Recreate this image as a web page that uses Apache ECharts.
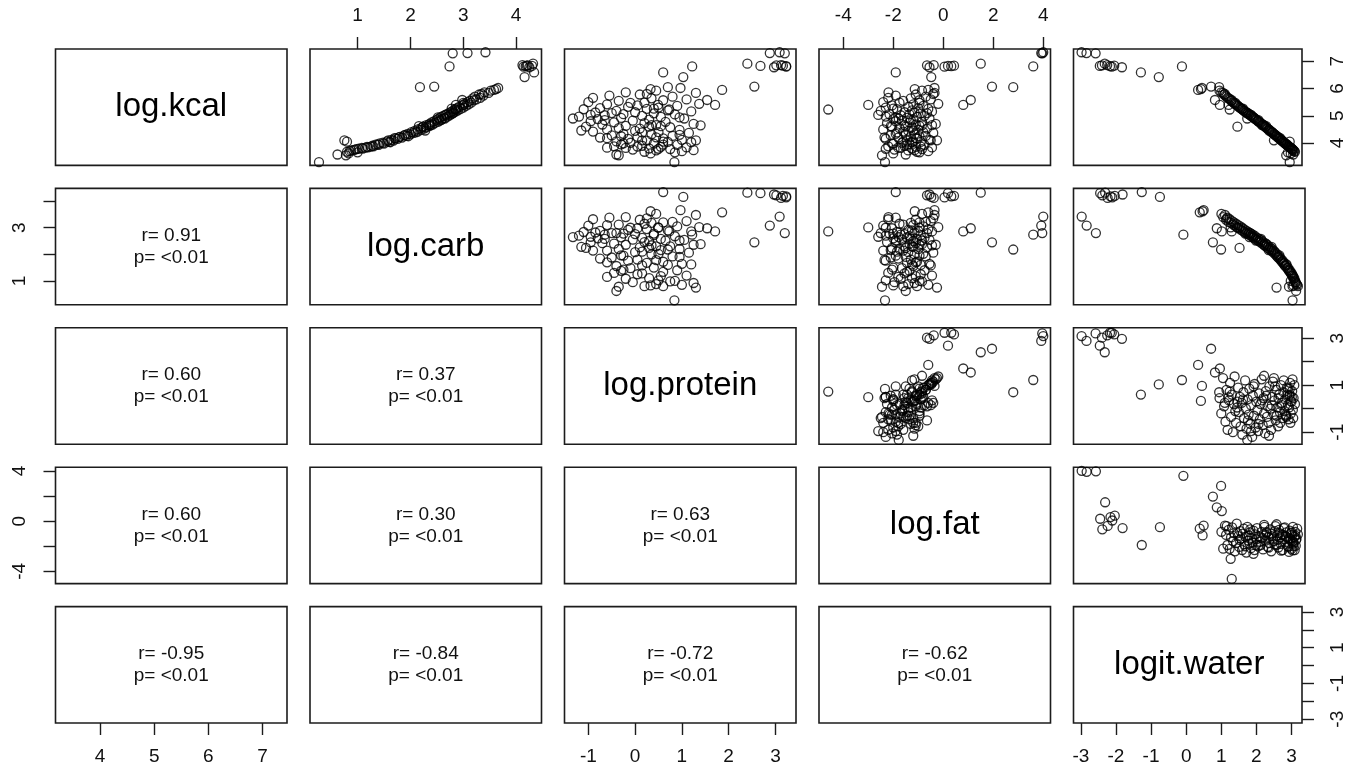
<!DOCTYPE html>
<html>
<head>
<meta charset="utf-8">
<script src="https://cdn.jsdelivr.net/npm/echarts@6/dist/echarts.min.js"></script>
<style>
  html, body { margin: 0; padding: 0; background: #ffffff; }
  #chart { width: 1347px; height: 771px; }
</style>
</head>
<body>
<div id="chart"></div>
<script>
// Variable names shown on the diagonal
const varNames = ['log.kcal', 'log.carb', 'log.protein', 'log.fat', 'logit.water'];

// One value per food item, same order in every array
const logKcal = [
  7.33, 7.30, 7.29, 6.81, 6.59, 6.42, 6.91, 6.83, 6.85, 6.82, 6.80, 6.84, 6.78, 6.86, 6.07, 5.95, 6.05, 5.58, 5.40, 5.98, 6.02, 4.90, 5.23, 5.40, 3.30, 4.60,
  5.92, 5.86, 5.84, 5.78, 5.74, 5.70, 5.66, 5.64, 5.60, 5.55,
  5.57, 5.50, 5.48, 5.44, 5.42, 5.38, 5.36, 5.33, 5.30, 5.28,
  5.25, 5.24, 5.20, 5.18, 5.16, 5.13, 5.12, 5.09, 5.06, 5.05,
  5.02, 5.00, 4.97, 4.96, 4.92, 4.90, 4.88, 4.86, 4.82, 4.80,
  4.78, 4.76, 4.73, 4.70, 4.68, 4.66, 4.63, 4.60, 4.58, 4.55,
  4.53, 4.50, 4.48, 4.45, 4.42, 4.40, 4.37, 4.34, 4.32, 4.28,
  4.26, 4.23, 4.20, 4.17, 4.15, 4.12, 4.09, 4.06, 4.04, 4.01,
  3.98, 3.95, 3.93, 3.90, 3.88, 3.86, 3.84, 3.82, 3.80, 3.78,
  3.76, 3.73, 3.70, 3.68, 3.55, 4.05, 4.10, 3.62, 3.58, 3.66,
  5.80, 5.47, 5.26, 5.10, 4.94, 4.84, 4.66, 4.62, 4.46, 4.39,
  4.30, 4.25, 4.21, 4.18, 4.10, 4.03, 3.99, 3.94, 3.87, 3.83, 3.79, 3.74, 5.03, 4.65
];
const logCarb = [
  3.42, 3.08, 2.80, 2.74, 4.34, 4.16, 4.32, 4.30, 4.22, 4.18, 4.14, 4.20, 4.25, 4.12, 2.45, 3.58, 2.18, 2.98, 2.86, 3.62, 3.66, 2.65, 2.86, 3.01, 0.27, 2.24,
  3.52, 3.40, 3.48, 3.30, 3.38, 3.22, 3.32, 3.18, 3.25, 3.12,
  3.20, 3.08, 3.15, 3.02, 3.10, 2.98, 3.05, 2.92, 3.00, 2.88,
  2.95, 2.84, 2.90, 2.80, 2.86, 2.76, 2.82, 2.72, 2.78, 2.68,
  2.74, 2.62, 2.70, 2.58, 2.64, 2.54, 2.60, 2.50, 2.55, 2.45,
  2.52, 2.40, 2.46, 2.36, 2.42, 2.30, 2.36, 2.24, 2.30, 2.20,
  2.26, 2.14, 2.20, 2.08, 2.14, 2.02, 2.06, 1.95, 2.00, 1.88,
  1.92, 1.80, 1.84, 1.72, 1.76, 1.64, 1.68, 1.56, 1.60, 1.48,
  1.50, 1.38, 1.40, 1.28, 1.30, 1.18, 1.20, 1.08, 1.10, 0.98,
  0.95, 0.88, 0.85, 0.80, 0.78, 0.80, 0.75, 0.83, 0.62, 1.00,
  3.35, 3.00, 2.78, 2.80, 2.52, 2.58, 2.34, 2.16, 2.28, 2.10,
  1.90, 1.96, 1.78, 1.70, 1.58, 1.62, 1.42, 1.34, 1.25, 1.15, 1.02, 0.92, 2.66, 2.38
];
const logProtein = [
  3.09, 2.88, 3.20, 1.22, 0.60, 1.03, 2.40, 2.68, 3.02, 3.23, 3.23, 3.16, 2.97, 3.12, 2.55, 1.86, 0.70, 1.54, 1.71, 0.33, 0.97, -1.33, 0.73, 0.49, 0.84, 0.30,
  0.45, -0.20, 1.30, 0.10, -0.55, 0.80, -0.90, 0.35, 1.10, -0.35,
  0.60, -1.00, 0.20, 1.37, -0.60, 0.05, 0.90, -0.15, 0.50, -0.75,
  0.25, -1.10, 0.70, -0.40, 1.20, 0.00, -0.85, 0.40, -0.25, 0.85,
  -0.65, 0.15, -1.20, 0.55, -0.30, 1.05, -0.80, 0.30, -0.05, -0.95,
  0.65, -0.45, 0.20, 1.25, -0.70, 0.45, -0.20, -1.05, 0.75, -0.35,
  0.10, -0.60, 0.95, 0.00, -0.90, 0.50, 1.15, -0.25, 0.35, -0.50,
  0.80, 0.05, -0.75, 0.60, -0.15, 1.00, 0.25, -0.40, 0.70, -0.10,
  0.40, -0.30, 0.90, 0.15, -0.45, 0.55, 1.10, -0.20, 0.30, 0.75,
  -0.05, 0.45, 1.00, 0.20, -0.35, 0.60, 1.30, 0.33, -0.40, 0.85,
  0.25, -0.10, 0.40, -0.50, 0.95, -0.65, 0.35, 0.55, -1.15, 0.15,
  0.95, -0.30, 0.45, -0.60, 0.15, 1.20, -0.25, 0.60, 0.05, -0.60, 0.50, 1.25, -0.95, 1.40
];
const logFat = [
  4.00, 3.92, 3.96, 3.60, -1.90, -0.48, 1.50, 0.19, -0.65, 0.32, 0.05, 0.43, -0.55, -0.38, 1.95, -0.60, 2.80, 1.10, 0.80, -1.14, -0.35, -1.78, -4.60, -3.00, -2.33, -1.50,
  -0.85, -2.19, -0.35, -1.10, -1.90, -0.70, -2.20, -1.30, -0.50, -1.60,
  -0.95, -2.40, -1.75, -0.20, -1.20, -2.05, -0.80, -1.40, -2.30, -1.00,
  -0.60, -1.85, -1.25, -2.50, -0.45, -1.55, -1.15, -0.90, -2.15, -1.35,
  -1.70, -0.75, -2.30, -1.05, -1.45, -0.55, -2.00, -1.20, -1.65, -1.90,
  -0.85, -1.35, -2.25, -0.30, -1.10, -1.55, -0.95, -2.05, -1.25, -1.75,
  -0.65, -2.40, -1.00, -1.40, -1.60, -0.80, -0.40, -1.90, -1.15, -2.10,
  -0.70, -1.30, -1.80, -1.05, -2.30, -0.55, -1.45, -1.20, -0.90, -1.65,
  -2.00, -1.35, -0.75, -1.55, -2.20, -1.10, -0.45, -1.70, -1.25, -0.85,
  -1.95, -1.40, -0.60, -1.05, -2.45, -1.60, -0.25, -2.00, -1.50, -0.95,
  -0.40, -0.95, -2.00, -0.65, -1.90, -1.30, -0.45, -2.10, -1.20, -1.85,
  -1.50, -0.95, -2.35, -1.10, -0.50, -1.25, -2.05, -1.45, -0.90, -1.80, -2.30, -1.15, -2.60, -0.85
];
const logitWater = [
  -2.98, -2.84, -2.58, -0.12, -1.29, -0.78, -2.32, -2.46, -2.40, -2.17, -2.12, -2.05, -1.83, -2.25, 0.71, 0.34, 0.94, 0.82, 0.96, 0.42, 0.45, 1.74, 1.24, 1.21, 2.95, 1.46,
  0.95, 1.00, 1.05, 1.08, 1.12, 1.15, 1.18, 1.22, 1.25, 1.28,
  1.30, 1.33, 1.36, 1.38, 1.42, 1.45, 1.48, 1.50, 1.53, 1.55,
  1.58, 1.60, 1.63, 1.65, 1.68, 1.70, 1.72, 1.75, 1.78, 1.80,
  1.83, 1.85, 1.88, 1.90, 1.93, 1.95, 1.98, 2.00, 2.03, 2.05,
  2.08, 2.10, 2.12, 2.15, 2.18, 2.20, 2.22, 2.25, 2.27, 2.30,
  2.32, 2.35, 2.37, 2.40, 2.42, 2.45, 2.47, 2.50, 2.52, 2.55,
  2.57, 2.60, 2.62, 2.65, 2.67, 2.70, 2.72, 2.75, 2.77, 2.80,
  2.82, 2.85, 2.87, 2.90, 2.92, 2.94, 2.96, 2.98, 3.00, 3.02,
  3.04, 3.06, 3.08, 3.10, 2.85, 2.95, 2.50, 2.98, 3.05, 2.90,
  1.10, 1.40, 1.62, 1.76, 1.92, 2.06, 2.16, 2.28, 2.36, 2.44,
  2.53, 2.58, 2.63, 2.68, 2.73, 2.78, 2.83, 2.88, 2.93, 2.97, 3.01, 3.03, 1.85, 2.22
];

// Axis limits per variable (same for the row and the column of that variable)
const axisLimits = [[3.18, 7.45], [0.10, 4.48], [-1.51, 3.44], [-4.97, 4.29], [-3.21, 3.30]];
// Tick positions per variable
const tickValues = [[4, 5, 6, 7], [1, 2, 3, 4], [-1, 0, 1, 2, 3], [-4, -2, 0, 2, 4], [-3, -2, -1, 0, 1, 2, 3]];
// Labels printed on the vertical (left/right) axes, where the crowded ones are dropped
const sideLabelValues = [[4, 5, 6, 7], [1, 3], [-1, 1, 3], [-4, 0, 4], [-3, -1, 1, 3]];

// Pearson r for the lower panels, row by row (row 2 to row 5)
const corrR = [
  [0.91],
  [0.60, 0.37],
  [0.60, 0.30, 0.63],
  [-0.95, -0.84, -0.72, -0.62]
];
const pText = '<0.01';

const columns = [logKcal, logCarb, logProtein, logFat, logitWater];

// Panel layout in pixels
const panelLeft = [55.5, 310, 564.5, 819, 1073.5];
const panelTop = [49, 188.4, 327.8, 467.2, 606.6];
const panelW = 231.5;
const panelH = 116.4;

const FONT = "'Liberation Sans', Arial, Helvetica, sans-serif";
const INK = '#1c1c1c';
const N = varNames.length;

const grids = [], xAxes = [], yAxes = [], series = [], graphics = [];

function axisStyle(show, ticks, labels, position, isY) {
  return {
    show: show,
    position: position,
    axisLine: { show: false, onZero: false },
    splitLine: { show: false },
    axisTick: {
      show: show, inside: false, length: 12,
      customValues: ticks,
      lineStyle: { color: INK, width: 1.4 }
    },
    axisLabel: {
      show: show,
      customValues: labels,
      margin: isY ? 26 : 24,
      rotate: isY ? 90 : 0,
      fontSize: 19,
      fontFamily: FONT,
      color: '#111'
    }
  };
}

for (let r = 0; r < N; r++) {
  for (let c = 0; c < N; c++) {
    const idx = r * N + c;
    grids.push({
      left: panelLeft[c], top: panelTop[r], width: panelW, height: panelH,
      show: true, borderColor: INK, borderWidth: 1.6, backgroundColor: 'transparent'
    });

    const topX = (r === 0 && c % 2 === 1);
    const bottomX = (r === N - 1 && c % 2 === 0);
    const leftY = (c === 0 && r % 2 === 1);
    const rightY = (c === N - 1 && r % 2 === 0);

    xAxes.push(Object.assign({
      gridIndex: idx, type: 'value',
      min: axisLimits[c][0], max: axisLimits[c][1]
    }, axisStyle(topX || bottomX, tickValues[c], tickValues[c], topX ? 'top' : 'bottom', false)));

    yAxes.push(Object.assign({
      gridIndex: idx, type: 'value',
      min: axisLimits[r][0], max: axisLimits[r][1]
    }, axisStyle(leftY || rightY, tickValues[r], sideLabelValues[r], rightY ? 'right' : 'left', true)));

    const cx = panelLeft[c] + panelW / 2;
    const cy = panelTop[r] + panelH / 2;

    if (r === c) {
      graphics.push({
        type: 'text', x: cx, y: cy, silent: true,
        style: {
          text: varNames[r], fontSize: 33, fontFamily: FONT, fill: '#000',
          align: 'center', verticalAlign: 'middle',
          textAlign: 'center', textVerticalAlign: 'middle'
        }
      });
    } else if (r > c) {
      const v = corrR[r - 1][c];
      graphics.push({
        type: 'text', x: cx, y: cy, silent: true,
        style: {
          text: 'r= ' + v.toFixed(2) + '\np= ' + pText,
          fontSize: 19, lineHeight: 22, fontFamily: FONT, fill: '#111',
          align: 'center', verticalAlign: 'middle',
          textAlign: 'center', textVerticalAlign: 'middle'
        }
      });
    } else {
      const xs = columns[c], ys = columns[r];
      series.push({
        type: 'scatter',
        xAxisIndex: idx, yAxisIndex: idx,
        data: xs.map((x, i) => [x, ys[i]]),
        symbol: 'circle', symbolSize: 9,
        itemStyle: { color: 'rgba(0,0,0,0)', borderColor: '#000', borderWidth: 1.3 },
        silent: true
      });
    }
  }
}

const chart = echarts.init(document.getElementById('chart'), null, { renderer: 'canvas' });
chart.setOption({
  backgroundColor: '#ffffff',
  animation: false,
  grid: grids,
  xAxis: xAxes,
  yAxis: yAxes,
  series: series,
  graphic: { elements: graphics }
});
</script>
</body>
</html>
